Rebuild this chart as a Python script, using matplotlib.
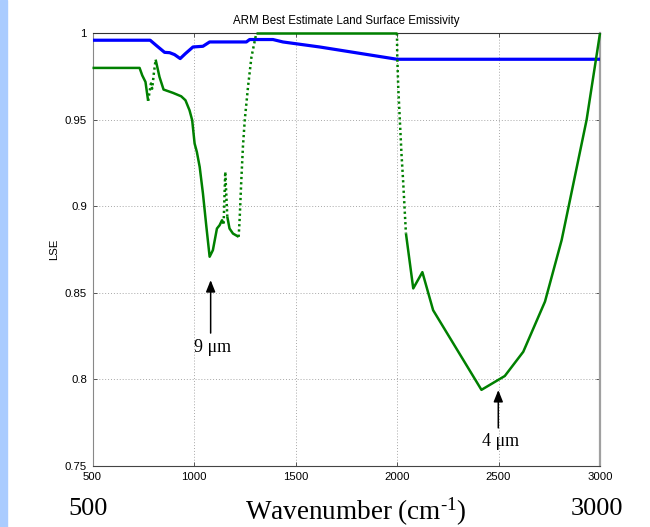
import numpy as np
import matplotlib
matplotlib.use("Agg")
import matplotlib.pyplot as plt
from matplotlib.patches import Rectangle

# %% DATA
# blue curve
wn_blue = [500, 784, 814, 855, 880, 904, 932, 958, 995, 1044, 1077, 1258, 1274,
           1389, 1438, 1619, 2000, 3000]
lse_blue = [0.996, 0.996, 0.993, 0.989, 0.9888, 0.9877, 0.9854, 0.9883, 0.9921,
            0.9925, 0.995, 0.995, 0.9964, 0.9964, 0.995, 0.9921, 0.985, 0.985]

# green curve
wn_green = [500, 732, 745, 761, 774, 781, 788, 794, 802, 811, 830, 850, 896, 937,
            958, 978, 991, 1003, 1014, 1028, 1044, 1061, 1077, 1093, 1113, 1126,
            1138, 1146, 1154, 1164, 1175, 1192, 1220, 1225, 1233, 1241, 1250, 1266,
            1283, 1307, 2000, 2001, 2006, 2014, 2022, 2030, 2044, 2080, 2125, 2178,
            2416, 2531, 2622, 2729, 2811, 2852, 2934, 3000]
lse_green = [0.980, 0.980, 0.9757, 0.9719, 0.961, 0.9661, 0.971, 0.968, 0.9767,
             0.9848, 0.9748, 0.9675, 0.9656, 0.9636, 0.9613, 0.9555, 0.9498, 0.9363,
             0.9315, 0.9228, 0.9075, 0.8882, 0.8709, 0.8747, 0.8872, 0.8891, 0.892,
             0.8901, 0.920, 0.894, 0.8872, 0.8843, 0.8824, 0.893, 0.915, 0.9344,
             0.9498, 0.969, 0.9863, 1.0, 1.0, 0.988, 0.969, 0.9498, 0.9305, 0.915,
             0.8844, 0.8526, 0.862, 0.840, 0.794, 0.802, 0.816, 0.845, 0.8805,
             0.9036, 0.950, 1.0]

# wavenumber ranges where the sampled green curve shows up as dots
dotted_ranges = [(774, 811), (1146, 1164), (1220, 1307), (2000, 2044)]

x_ticks = [500, 1000, 1500, 2000, 2500, 3000]
y_ticks = [0.75, 0.8, 0.85, 0.9, 0.95, 1]
y_tick_labels = ["0.75", "0.8", "0.85", "0.9", "0.95", "1"]

# arrow annotations: (label, wavenumber, tip LSE, tail LSE, text LSE)
notes = [("9 \u03bcm", 1082, 0.8574, 0.8268, 0.8187),
         ("4 \u03bcm", 2499, 0.7939, 0.7720, 0.7640)]

# %% FIGURE
plt.rcParams["mathtext.default"] = "regular"
plt.rcParams["mathtext.fontset"] = "custom"
plt.rcParams["mathtext.rm"] = "Liberation Serif"
plt.rcParams["mathtext.it"] = "Liberation Serif:italic"
fig = plt.figure(figsize=(6.5, 5.27), dpi=100)
fig.patches.append(Rectangle((0, 0), 7 / 650, 1, transform=fig.transFigure,
                             color="#aaccff", zorder=0))

ax = fig.add_axes([92.5 / 650, 61 / 527, 507.5 / 650, 432.7 / 527])

ax.plot(wn_blue, lse_blue, color="#0000ff", linewidth=2.3, zorder=3)

# green curve, split into solid and dotted pieces
wg = np.array(wn_green)
lg = np.array(lse_green)
mids = (wg[:-1] + wg[1:]) / 2
is_dot = np.array([any(a <= m <= b for a, b in dotted_ranges) for m in mids])
start = 0
for i in range(1, len(mids) + 1):
    if i == len(mids) or is_dot[i] != is_dot[start]:
        seg = slice(start, i + 1)
        if is_dot[start]:
            ax.plot(wg[seg], lg[seg], color="#008000", linewidth=1.8,
                    linestyle=(0, (0.9, 1.2)), zorder=4, clip_on=False)
        else:
            ax.plot(wg[seg], lg[seg], color="#008000", linewidth=1.8,
                    solid_capstyle="butt", zorder=4, clip_on=False)
        start = i

for label, wn, tip, tail, ty in notes:
    ax.annotate("", xy=(wn, tip), xytext=(wn, tail),
                arrowprops=dict(arrowstyle="-|>,head_length=0.7,head_width=0.28",
                                color="black", lw=1.1, shrinkA=0, shrinkB=0))
    ax.text(wn + 10, ty, label, ha="center", va="center",
            family="Liberation Serif", fontsize=13)

ax.set_xlim(500, 3000)
ax.set_ylim(0.75, 1)
ax.set_xticks(x_ticks)
ax.set_yticks(y_ticks)
ax.set_yticklabels(y_tick_labels)
ax.tick_params(direction="in", length=3, width=0.7, color="#555555",
               top=True, right=True, labelsize=8.2, pad=4)
for t in ax.get_xticklabels() + ax.get_yticklabels():
    t.set_family("Liberation Sans")
ax.grid(True, linestyle=(0, (1, 2)), color="#a8a8a8", linewidth=0.7)

ax.spines["top"].set_color("#333333")
ax.spines["bottom"].set_color("#444444")
ax.spines["left"].set_color("#888888")
ax.spines["right"].set_color("#a0a0a0")
ax.spines["right"].set_linewidth(1.6)

ax.set_title("ARM Best Estimate Land Surface Emissivity", fontsize=8.3,
             family="Liberation Sans", pad=7)
ax.set_ylabel("LSE", fontsize=8.2, family="Liberation Sans", labelpad=4)

# large slide-style axis text underneath
fig.text(88.5 / 650, 1 - 515 / 527, "500", ha="center", va="baseline",
         family="Liberation Serif", fontsize=19)
fig.text(597 / 650, 1 - 515 / 527, "3000", ha="center", va="baseline",
         family="Liberation Serif", fontsize=19)
fig.text(356 / 650, 1 - 520 / 527, r"Wavenumber (cm$^{\text{-1}}$)", ha="center",
         va="baseline", family="Liberation Serif", fontsize=19.5)

fig.savefig("out.png", dpi=100)
